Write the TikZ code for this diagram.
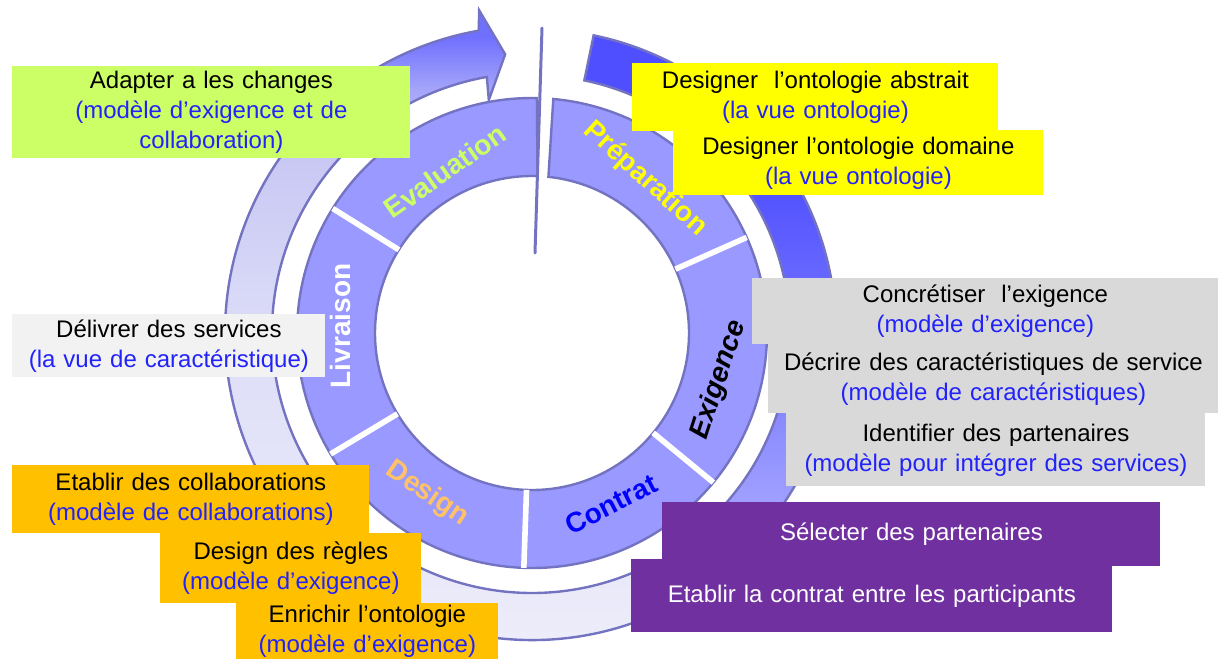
\documentclass[tikz,border=0pt]{standalone}
\usepackage{fontspec}
\setmainfont{Liberation Sans}
\usetikzlibrary{positioning}
\definecolor{ringFill}{HTML}{9999FF}
\definecolor{ringLine}{HTML}{7373C2}
\definecolor{arcBlue}{HTML}{7070FF}
\definecolor{arcLight}{HTML}{A6A6FA}
\definecolor{arcLav}{HTML}{C8C8F4}
\definecolor{arcMid}{HTML}{DEDEF8}
\definecolor{arcPale}{HTML}{EEEEFA}
\definecolor{arcDeep}{HTML}{4F4FFF}
\definecolor{arcSoft}{HTML}{B0B0FF}
\definecolor{boxGreen}{HTML}{CCFF66}
\definecolor{boxYellow}{HTML}{FFFF00}
\definecolor{boxGray}{HTML}{D9D9D9}
\definecolor{boxLight}{HTML}{F2F2F2}
\definecolor{boxPurple}{HTML}{7030A0}
\definecolor{boxOrange}{HTML}{FFC000}
\definecolor{subBlue}{HTML}{2222FA}
\definecolor{designOrange}{HTML}{FFC266}
\pgfdeclareverticalshading{leftfade}{100bp}{color(0bp)=(arcPale); color(25bp)=(arcPale);
  color(50bp)=(arcMid); color(64bp)=(arcLav); color(69bp)=(arcLight); color(73bp)=(arcBlue);
  color(100bp)=(arcBlue)}
\pgfdeclareverticalshading{rightfade}{100bp}{color(0bp)=(arcSoft); color(25bp)=(arcSoft);
  color(50bp)=(arcDeep!70!arcSoft); color(62bp)=(arcDeep); color(100bp)=(arcDeep)}
\tikzset{
  stepbox/.style={anchor=north west, inner sep=0pt, align=center,
    font=\fontsize{12}{15}\selectfont},
  phase/.style={inner sep=0pt, font=\fontsize{14}{14}\selectfont\bfseries},
  band/.style={draw=ringLine, line width=1.2pt},
}
\newcommand{\sub}[1]{\textcolor{subBlue}{#1}}

\begin{document}
\begin{tikzpicture}[x=0.5pt, y=0.5pt]
  \useasboundingbox (0,0) rectangle (1220,-659);

  % outer arcs and phase ring
  \begin{scope}[shift={(532,-333)}]
    \shadedraw[band, shading=leftfade]
      (295:307) arc[start angle=295, end angle=100, radius=307]
      -- (99.3:327) -- (95.5:280) -- (100.5:237) -- (100:260)
      arc[start angle=100, end angle=295, radius=260] -- cycle;
    \shadedraw[band, shading=rightfade]
      (78.3:304) arc[start angle=78.3, end angle=-50, radius=304]
      -- (-50:258) arc[start angle=-50, end angle=78.3, radius=258] -- cycle;
    \filldraw[band, fill=ringFill]
      (84.8:235) arc[start angle=84.8, end angle=-271.2, radius=235]
      -- (-272:157) arc[start angle=-272, end angle=84, radius=157] -- cycle;
    \foreach \a in {148,24,-39.5,-92,211}
      \draw[white, line width=2.8pt] (\a:157) -- (\a:235);
  \end{scope}
  \draw[ringLine, line width=1.5pt, line cap=round] (542,-28) -- (535,-253);

  % phase names
  \node[phase, boxGreen, rotate=35] (evaluation) at (445,-171) {Evaluation};
  \node[phase, boxYellow, rotate=-42] (preparation) at (645,-179) {Préparation};
  \node[phase, black, rotate=72, font=\fontsize{14}{14}\selectfont\bfseries\itshape] (exigence) at (719,-380) {Exigence};
  \node[phase, blue, rotate=27] (contrat) at (611,-504) {Contrat};
  \node[phase, designOrange, rotate=-34] (design) at (427,-494) {Design};
  \node[phase, white, rotate=90] (livraison) at (340,-326) {Livraison};

  % activity boxes
  \node[stepbox, fill=boxGreen, text width=199pt, minimum height=46pt] (adapter) at (12,-66)
    {Adapter a les changes\\ \sub{(modèle d’exigence et de}\\ \sub{collaboration)}};
  \node[stepbox, fill=boxLight, text width=156.5pt, minimum height=31.5pt] (delivrer) at (12,-314)
    {Délivrer des services\\ \sub{(la vue de caractéristique)}};

  \node[stepbox, fill=boxYellow, text width=183pt, minimum height=34pt] (ontoAbs) at (632,-63)
    {Designer \ l’ontologie abstrait\\ \sub{(la vue ontologie)}};
  \node[stepbox, fill=boxYellow, text width=185pt, minimum height=32.5pt] (ontoDom) at (673,-130)
    {Designer l’ontologie domaine\\ \sub{(la vue ontologie)}};

  \node[stepbox, fill=boxGray, text width=233pt, minimum height=33pt] (concret) at (752,-278)
    {Concrétiser \ l’exigence\\ \sub{(modèle d’exigence)}};
  \node[stepbox, fill=boxGray, text width=225pt, minimum height=34.5pt] (decrire) at (768,-344)
    {Décrire des caractéristiques de service\\ \sub{(modèle de caractéristiques)}};
  \node[stepbox, fill=boxGray, text width=209.5pt, minimum height=36.5pt] (identif) at (786,-413)
    {Identifier des partenaires\\ \sub{(modèle pour intégrer des services)}};

  \node[stepbox, fill=boxPurple, text=white, text width=249pt, minimum height=32pt] (selecter) at (662,-502)
    {Sélecter des partenaires};
  \node[stepbox, fill=boxPurple, text=white, text width=240.5pt, minimum height=36.5pt] (contratPart) at (631,-559)
    {Etablir la contrat entre les participants};

  \node[stepbox, fill=boxOrange, text width=178.5pt, minimum height=34pt] (collab) at (12,-465)
    {Etablir des collaborations\\ \sub{(modèle de collaborations)}};
  \node[stepbox, fill=boxOrange, text width=130.5pt, minimum height=35pt] (regles) at (160,-533)
    {Design des règles\\ \sub{(modèle d’exigence)}};
  \node[stepbox, fill=boxOrange, text width=131pt, minimum height=28pt] (enrichir) at (236,-603)
    {Enrichir l’ontologie\\ \sub{(modèle d’exigence)}};
\end{tikzpicture}
\end{document}
